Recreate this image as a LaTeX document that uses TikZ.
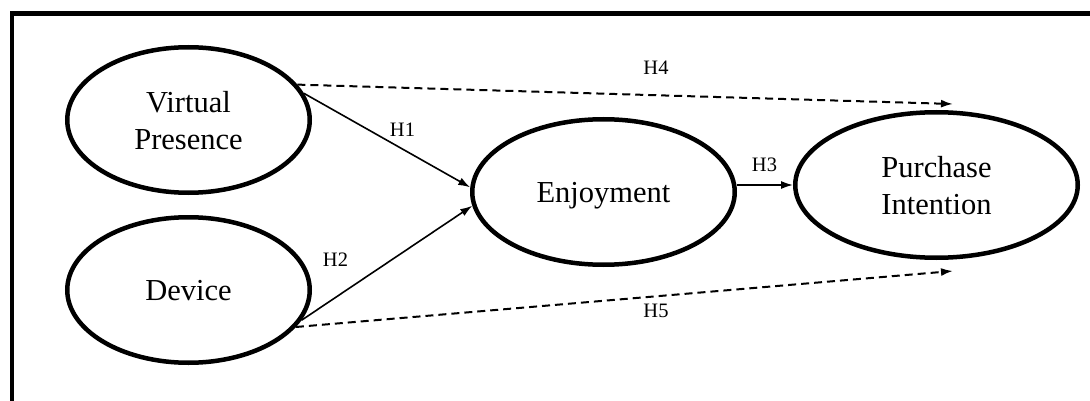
\documentclass[tikz,border=0pt]{standalone}
\usepackage{fontspec}
\setmainfont{Liberation Serif}
\usetikzlibrary{arrows.meta,shapes.geometric}
\begin{document}
\begin{tikzpicture}[x=1pt,y=-1pt,
  construct/.style={ellipse, draw, line width=4.5pt, inner sep=0pt, align=center,
    text depth=0pt, font=\fontsize{30.5}{37}\selectfont},
  link/.style={line width=1.6pt, -{Latex[length=12pt,width=8pt]}},
  dlink/.style={line width=2pt, dash pattern=on 8pt off 5pt, -{Latex[length=12pt,width=8pt]}},
  lbl/.style={font=\fontsize{20.5}{24}\selectfont, inner sep=0pt, text depth=0pt}]
\fill[white] (0,0) rectangle (1090,401);
\useasboundingbox (0,0) rectangle (1090,401);
\draw[line width=4.5pt, line join=miter] (12,401) -- (12,13.5) -- (1090,13.5);

\node[construct, minimum width=242.5pt, minimum height=145.5pt] (vp) at (188.5,120) {Virtual\\Presence};
\node[construct, minimum width=242.5pt, minimum height=145.5pt] (dev) at (188.5,290) {Device};
\node[construct, minimum width=262.5pt, minimum height=145.5pt] (en) at (603.5,192) {Enjoyment};
\node[construct, minimum width=282.5pt, minimum height=145.5pt] (pi) at (936.5,185) {Purchase\\Intention};

\coordinate (h4end) at (953,104);
\coordinate (h5end) at (953,271);

\draw[link] (vp.13.7) -- (en.178.3);
\draw[link] (dev.-15.3) -- (en.186.7);
\draw[link] (en.east |- pi.west) -- (pi.west);
\draw[dlink] (vp.18.8) -- (h4end);
\draw[dlink] (dev.-19.1) -- (h5end);

\node[lbl] (l1) at (402.5,129.5) {H1};
\node[lbl] (l2) at (335.5,260) {H2};
\node[lbl] (l3) at (764.5,165) {H3};
\node[lbl] (l4) at (656,68) {H4};
\node[lbl] (l5) at (656,311) {H5};
\end{tikzpicture}
\end{document}
